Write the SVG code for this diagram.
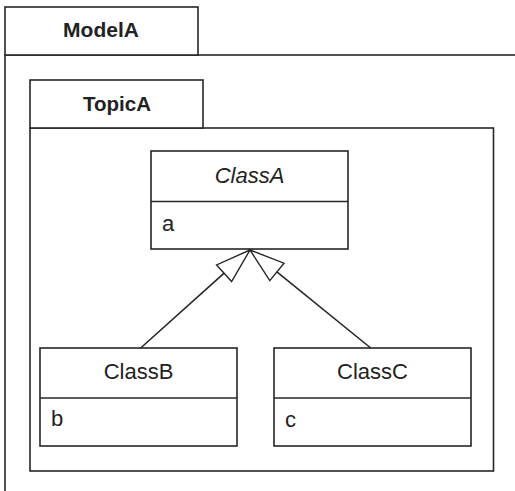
<svg xmlns="http://www.w3.org/2000/svg" width="515" height="491" viewBox="0 0 515 491">
<style>
.box{fill:#fff;stroke:#262626;stroke-width:1.6}
.ln{fill:none;stroke:#262626;stroke-width:1.6}
.hd{fill:#fff;stroke:#262626;stroke-width:1.4}
.t{font-family:"Liberation Sans",Arial,sans-serif;fill:#222;font-size:22px}
.pk{font-weight:bold;font-size:21px}
.c{text-anchor:middle}
.it{font-style:italic}
</style>
<rect width="515" height="491" fill="#fff"/>
<g id="ModelA">
<rect class="box" x="5" y="55" width="530" height="460"/>
<rect class="box" x="5" y="7" width="193" height="48"/>
<text class="t pk c" x="101" y="37">ModelA</text>
</g>
<g id="TopicA">
<rect class="box" x="30" y="128" width="463.5" height="343"/>
<rect class="box" x="30" y="80" width="173" height="48"/>
<text class="t pk c" x="117" y="111" style="font-size:20.5px">TopicA</text>
</g>
<g id="ClassA">
<rect class="box" x="151" y="151" width="197" height="98"/>
<line class="ln" x1="151" y1="201.5" x2="348" y2="201.5"/>
<text class="t c it" x="249.5" y="183">ClassA</text>
<text class="t" x="162" y="231">a</text>
</g>
<g id="ClassB">
<rect class="box" x="40" y="348" width="197" height="98"/>
<line class="ln" x1="40" y1="398" x2="237" y2="398"/>
<text class="t c" x="138.5" y="379">ClassB</text>
<text class="t" x="51" y="426">b</text>
</g>
<g id="ClassC">
<rect class="box" x="274" y="348" width="197" height="98"/>
<line class="ln" x1="274" y1="398" x2="471" y2="398"/>
<text class="t c" x="372.5" y="379">ClassC</text>
<text class="t" x="285" y="427">c</text>
</g>
<g id="connectors">
<line class="ln" x1="140.7" y1="348" x2="224.1" y2="273.2"/>
<polygon class="hd" points="250,250 216.6,264.9 231.6,281.5"/>
<line class="ln" x1="370.7" y1="348" x2="276.9" y2="271.9"/>
<polygon class="hd" points="250,250 284,263.2 269.8,280.6"/>
</g>
</svg>
